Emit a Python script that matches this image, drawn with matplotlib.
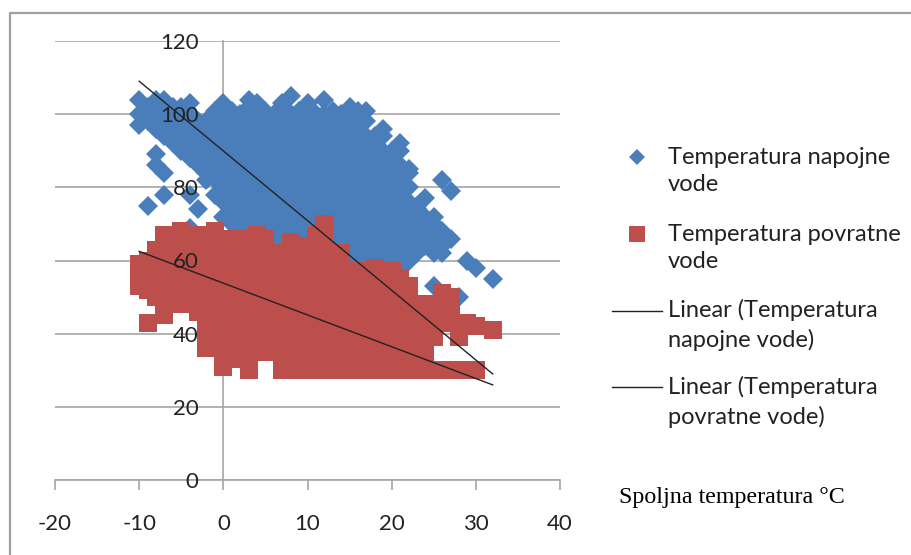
import matplotlib.pyplot as plt
from matplotlib.lines import Line2D

plt.rcParams["axes.unicode_minus"] = False
plt.rcParams["font.family"] = ["Lato", "DejaVu Sans"]

x_ticks = [-20, -10, 0, 10, 20, 30, 40]
y_ticks = [0, 20, 40, 60, 80, 100, 120]

# outside temperature -> readings, one list per column
blue_t = list(range(-10, 33))
blue_v = [
    [104, 100, 97],
    [102, 98, 75],
    [104, 100, 96, 89, 86],
    [104, 102, 98, 94, 84, 78],
    [102, 100, 96, 92],
    [102, 98, 94, 90],
    [103, 100, 96, 92, 88, 78, 69],
    [98, 94, 90, 86, 74],
    [98, 96, 92, 88, 84, 82],
    [101, 98, 94, 90, 86, 82, 78],
    [103, 100, 96, 92, 88, 84, 80, 76, 72],
    [101, 98, 94, 90, 86, 82, 78, 74, 70],
    [100, 96, 92, 88, 84, 80, 76, 72, 68],
    [104, 102, 98, 94, 90, 86, 82, 78, 74, 70, 66],
    [103, 100, 96, 92, 88, 84, 80, 76, 72, 68, 64],
    [101, 98, 94, 90, 86, 82, 78, 74, 70, 66, 62],
    [100, 96, 92, 88, 84, 80, 76, 72, 68, 64, 60],
    [103, 102, 98, 94, 90, 86, 82, 78, 74, 70, 66, 62],
    [105, 100, 96, 92, 88, 84, 80, 76, 72, 68, 64],
    [101, 98, 94, 90, 86, 82, 78, 74, 70, 66, 62],
    [103, 100, 96, 92, 88, 84, 80, 76, 72, 68, 64],
    [100, 98, 94, 90, 86, 82, 78, 74, 70, 66],
    [104, 100, 96, 92, 88, 84, 80, 76, 72, 68],
    [101, 98, 94, 90, 86, 82, 78, 74, 70, 66, 62, 58],
    [100, 96, 92, 88, 84, 80, 76, 72, 68, 64, 60, 56],
    [102, 98, 94, 90, 86, 82, 78, 74, 70, 66, 62, 58],
    [101, 100, 96, 92, 88, 84, 80, 76, 72, 68, 64, 60, 56],
    [101, 98, 94, 90, 86, 82, 78, 74, 70, 66, 62, 58],
    [94, 92, 88, 84, 80, 76, 72, 68, 64, 60, 56],
    [96, 94, 90, 86, 82, 78, 74, 70, 66, 62, 58],
    [90, 88, 84, 80, 76, 72, 68, 64, 60, 56],
    [92, 90, 86, 82, 78, 74, 70, 66, 62, 58],
    [85, 84, 80, 76, 72, 68, 64, 60],
    [75, 74, 70, 66, 62],
    [77, 72, 68, 64],
    [72, 70, 66, 62, 53],
    [82, 68, 64, 62],
    [79, 66],
    [50],
    [60],
    [58],
    [],
    [55],
]

red_t = list(range(-10, 33))
red_v = [
    [59, 55, 53],
    [60, 56, 52, 43],
    [63, 59, 55, 51, 50],
    [67, 63, 59, 55, 51, 47, 45],
    [67, 63, 59, 55, 51, 49],
    [68, 64, 60, 56, 52, 48],
    [67, 63, 59, 55, 51, 48],
    [67, 63, 59, 55, 51, 47, 46],
    [67, 63, 59, 55, 51, 47, 43, 39, 36],
    [68, 64, 60, 56, 52, 48, 44, 40, 36],
    [66, 62, 58, 54, 50, 46, 42, 38, 34, 31],
    [66, 62, 58, 54, 50, 46, 42, 38, 34, 33],
    [66, 62, 58, 54, 50, 46, 42, 38, 34, 33],
    [66, 62, 58, 54, 50, 46, 42, 38, 34, 30],
    [67, 63, 59, 55, 51, 47, 43, 39, 35],
    [66, 62, 58, 54, 50, 46, 42, 38, 35],
    [62, 58, 54, 50, 46, 42, 38, 35],
    [62, 58, 54, 50, 46, 42, 38, 34, 30],
    [65, 61, 57, 53, 49, 45, 41, 37, 33, 30],
    [64, 60, 56, 52, 48, 44, 40, 36, 32, 30],
    [64, 60, 56, 52, 48, 44, 40, 36, 32, 30],
    [67, 63, 59, 55, 51, 47, 43, 39, 35, 31, 30],
    [70, 66, 62, 58, 54, 50, 46, 42, 38, 34, 30],
    [62, 58, 54, 50, 46, 42, 38, 34, 30],
    [62, 58, 54, 50, 46, 42, 38, 34, 30],
    [57, 53, 49, 45, 41, 37, 33, 30],
    [57, 53, 49, 45, 41, 37, 33, 30],
    [57, 53, 49, 45, 41, 37, 33, 30],
    [58, 54, 50, 46, 42, 38, 34, 30],
    [57, 53, 49, 45, 41, 37, 33, 30],
    [57, 53, 49, 45, 41, 37, 33, 30],
    [55, 51, 47, 43, 39, 35, 31, 30],
    [53, 49, 45, 41, 37, 33, 30],
    [48, 44, 40, 36, 32, 30],
    [48, 44, 40, 36, 32, 30],
    [48, 44, 40, 39, 30],
    [51, 47, 43, 30],
    [50, 46, 43, 30],
    [43, 39, 30],
    [43, 42, 30],
    [42, 30],
    [],
    [41],
]

trend_t = [-10, 32]
trend_blue = [109, 29]
trend_red = [62.5, 26]

legend_labels = [
    "Temperatura napojne\nvode",
    "Temperatura povratne\nvode",
    "Linear (Temperatura\nnapojne vode)",
    "Linear (Temperatura\npovratne vode)",
]

blue = "#4a7ebb"
red = "#bc4e4b"
grey = "#a6a6a6"
text_col = "#222222"

blue_x = [t for t, vals in zip(blue_t, blue_v) for _ in vals]
blue_y = [v for vals in blue_v for v in vals]
red_x = [t for t, vals in zip(red_t, red_v) for _ in vals]
red_y = [v for vals in red_v for v in vals]

fig = plt.figure(figsize=(9.12, 5.55), dpi=100)
ax = fig.add_axes([55 / 912, 75 / 555, 505 / 912, 439 / 555])

ax.hlines(y_ticks, -20, 40, color=grey, linewidth=1.2, zorder=1)
ax.plot(blue_x, blue_y, "D", color=blue, ms=9.8, mew=0, zorder=2)
ax.plot(red_x, red_y, "s", color=red, ms=13.6, mew=0, zorder=2.1)
ax.plot(trend_t, trend_blue, color="#222222", linewidth=1, zorder=2.2)
ax.plot(trend_t, trend_red, color="#222222", linewidth=1, zorder=2.2)

ax.set_xlim(-20, 40)
ax.set_ylim(0, 120)
ax.set_xticks(x_ticks)
ax.set_yticks(y_ticks)
ax.set_axisbelow(False)
ax.patch.set_alpha(0)
for side in ["top", "right"]:
    ax.spines[side].set_visible(False)
ax.spines["left"].set_position(("data", 0))
ax.spines["left"].set_zorder(0.5)
ax.spines["bottom"].set_zorder(0.5)
for side in ["left", "bottom"]:
    ax.spines[side].set_color(grey)
    ax.spines[side].set_linewidth(1.2)
ax.tick_params(axis="x", direction="out", length=7.2, width=1.2, color=grey, pad=17, labelsize=16, labelcolor=text_col)
ax.tick_params(axis="y", length=0, pad=18, labelsize=16, labelcolor=text_col)

# overlay in pixel coordinates for the frame, legend and the pasted caption
over = fig.add_axes([0, 0, 1, 1], zorder=5)
over.set_xlim(0, 912)
over.set_ylim(555, 0)
over.axis("off")
over.add_line(Line2D([10.5, 10.5, 912], [555, 12.5, 12.5], color="#a0a0a0", linewidth=1.6))

label_y = [171, 248, 325, 402]
for y, label in zip(label_y, legend_labels):
    over.text(668, y, label, fontsize=17, color=text_col, va="center", ha="left", linespacing=1.39)
over.plot([637], [157], "D", color=blue, ms=8.1, mew=0)
over.plot([637], [234], "s", color=red, ms=11.5, mew=0)
over.plot([612, 662], [311, 311], color="#222222", linewidth=1)
over.plot([612, 662], [387, 387], color="#222222", linewidth=1)
over.text(619, 498, "Spoljna temperatura °C", family="Liberation Serif", fontsize=17.3, color="black", va="center", ha="left")

fig.savefig("out.png", dpi=100)
